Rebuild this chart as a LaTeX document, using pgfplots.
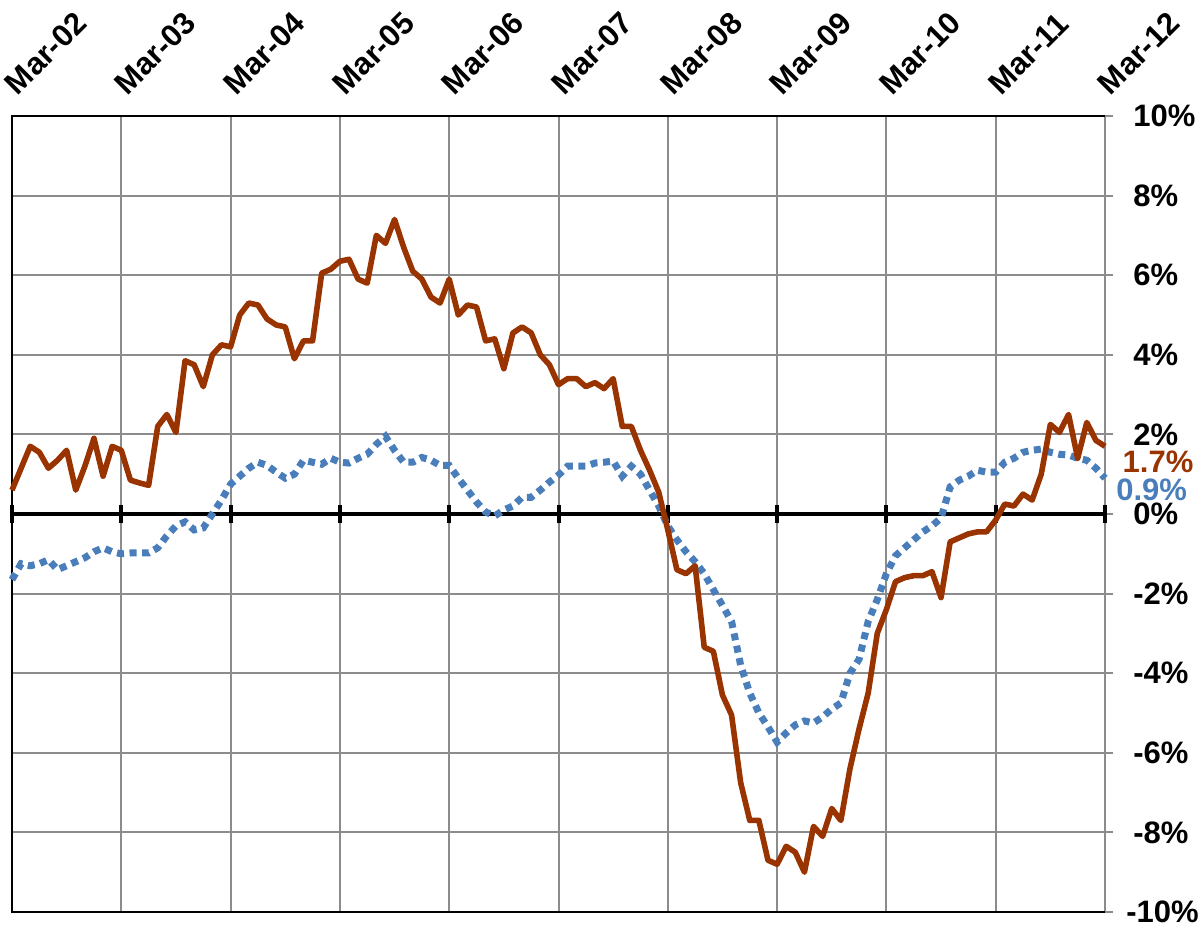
\documentclass[border=0pt]{standalone}
\usepackage{fontspec}
\setmainfont{Liberation Sans}
\usepackage{pgfplots}
\usepackage{pgfplotstable}
\pgfplotsset{compat=1.18}
\definecolor{rust}{HTML}{993300}
\definecolor{steel}{HTML}{4A7EBB}
\definecolor{gridgray}{HTML}{8C8C8C}

% month index (0 = Mar-02), year-on-year change in %
\pgfplotstableread{
m rust steel
0 0.6 -1.65
1 1.15 -1.25
2 1.7 -1.3
3 1.55 -1.25
4 1.15 -1.15
5 1.35 -1.4
6 1.6 -1.3
7 0.6 -1.2
8 1.2 -1.1
9 1.9 -0.95
10 0.95 -0.85
11 1.7 -0.95
12 1.6 -1.0
13 0.85 -0.98
14 0.78 -0.98
15 0.72 -0.98
16 2.2 -0.85
17 2.5 -0.55
18 2.05 -0.3
19 3.85 -0.2
20 3.75 -0.4
21 3.2 -0.35
22 4.0 0.0
23 4.25 0.35
24 4.2 0.75
25 5.0 0.95
26 5.3 1.15
27 5.25 1.3
28 4.9 1.22
29 4.75 1.05
30 4.7 0.9
31 3.9 1.0
32 4.35 1.35
33 4.35 1.3
34 6.05 1.25
35 6.15 1.4
36 6.35 1.3
37 6.4 1.28
38 5.9 1.4
39 5.8 1.5
40 7.0 1.75
41 6.8 1.95
42 7.4 1.6
43 6.7 1.3
44 6.1 1.3
45 5.9 1.42
46 5.45 1.35
47 5.3 1.22
48 5.9 1.22
49 5.0 0.9
50 5.25 0.6
51 5.2 0.3
52 4.35 0.05
53 4.4 -0.05
54 3.65 0.1
55 4.55 0.2
56 4.7 0.42
57 4.55 0.42
58 4.0 0.6
59 3.75 0.8
60 3.25 0.98
61 3.4 1.2
62 3.4 1.2
63 3.2 1.2
64 3.3 1.28
65 3.15 1.3
66 3.4 1.33
67 2.2 0.95
68 2.2 1.2
69 1.6 1.0
70 1.1 0.6
71 0.55 0.2
72 -0.4 -0.3
73 -1.4 -0.65
74 -1.5 -0.95
75 -1.3 -1.2
76 -3.35 -1.5
77 -3.45 -1.9
78 -4.55 -2.3
79 -5.05 -2.7
80 -6.75 -3.8
81 -7.7 -4.5
82 -7.7 -5.0
83 -8.7 -5.35
84 -8.8 -5.73
85 -8.35 -5.5
86 -8.5 -5.3
87 -9.0 -5.2
88 -7.85 -5.25
89 -8.1 -5.1
90 -7.4 -4.9
91 -7.7 -4.75
92 -6.4 -4.0
93 -5.4 -3.65
94 -4.5 -2.7
95 -3.0 -2.15
96 -2.4 -1.5
97 -1.7 -1.05
98 -1.6 -0.85
99 -1.55 -0.65
100 -1.55 -0.45
101 -1.45 -0.3
102 -2.1 -0.1
103 -0.7 0.68
104 -0.6 0.85
105 -0.5 0.95
106 -0.45 1.1
107 -0.45 1.05
108 -0.15 1.05
109 0.25 1.3
110 0.2 1.4
111 0.5 1.55
112 0.35 1.6
113 1.0 1.63
114 2.25 1.55
115 2.05 1.5
116 2.5 1.48
117 1.4 1.4
118 2.3 1.35
119 1.85 1.15
120 1.7 0.9
}\growth

\begin{document}
\begin{tikzpicture}
\begin{axis}[
  scale only axis,
  width=546.5pt, height=398pt,
  xmin=0, xmax=120, ymin=-10, ymax=10,
  clip=false,
  axis line style={draw=none},
  xtick={0,12,...,120},
  xticklabels={Mar-02,Mar-03,Mar-04,Mar-05,Mar-06,Mar-07,Mar-08,Mar-09,Mar-10,Mar-11,Mar-12},
  xticklabel pos=upper,
  xtick style={draw=none},
  xticklabel style={font=\fontsize{15.5}{17}\selectfont\bfseries, inner sep=0pt,
    xshift=3pt, yshift=5.5pt, rotate=45, anchor=south west},
  ytick={-10,-8,...,10},
  yticklabels={\hspace{-3.5pt}-10\%,-8\%,-6\%,-4\%,-2\%,0\%,2\%,4\%,6\%,8\%,10\%},
  yticklabel pos=right,
  ytick pos=right,
  tick align=outside,
  major tick length=4pt,
  ytick style={gridgray, line width=1pt},
  yticklabel style={font=\fontsize{15.5}{17}\selectfont\bfseries, anchor=west, inner sep=0pt, xshift=10pt},
  grid=major,
  grid style={gridgray, line width=1pt},
]
\coordinate (LL) at (rel axis cs:0,0);
\draw[black, line width=1pt] (rel axis cs:1,1) -- (rel axis cs:0,1) -- (rel axis cs:0,0) -- (rel axis cs:1,0);
\draw[black, line width=2pt] (axis cs:0,0) -- (axis cs:120,0);
\pgfplotsinvokeforeach{0,12,24,36,48,60,72,84,96,108,120}{
  \draw[black, line width=2pt] ([yshift=-4.5pt]axis cs:#1,0) -- ([yshift=4.5pt]axis cs:#1,0);
}
\addplot[steel, line width=3.5pt, dash pattern=on 3.5pt off 2.8pt] table[x=m, y=steel] {\growth};
\addplot[rust, line width=2.8pt, line join=round] table[x=m, y=rust] {\growth};
\node[anchor=west, inner sep=0pt, text=rust, font=\fontsize{15.5}{17}\selectfont\bfseries] at (axis cs:121.9,1.3) {1.7\%};
\node[anchor=west, inner sep=0pt, text=steel, font=\fontsize{15.5}{17}\selectfont\bfseries] at (axis cs:121.2,0.6) {0.9\%};
\end{axis}
\pgfresetboundingbox
\path ([xshift=-6pt, yshift=-8.5pt]LL) rectangle ++(600.5pt,464.5pt);
\end{tikzpicture}
\end{document}
